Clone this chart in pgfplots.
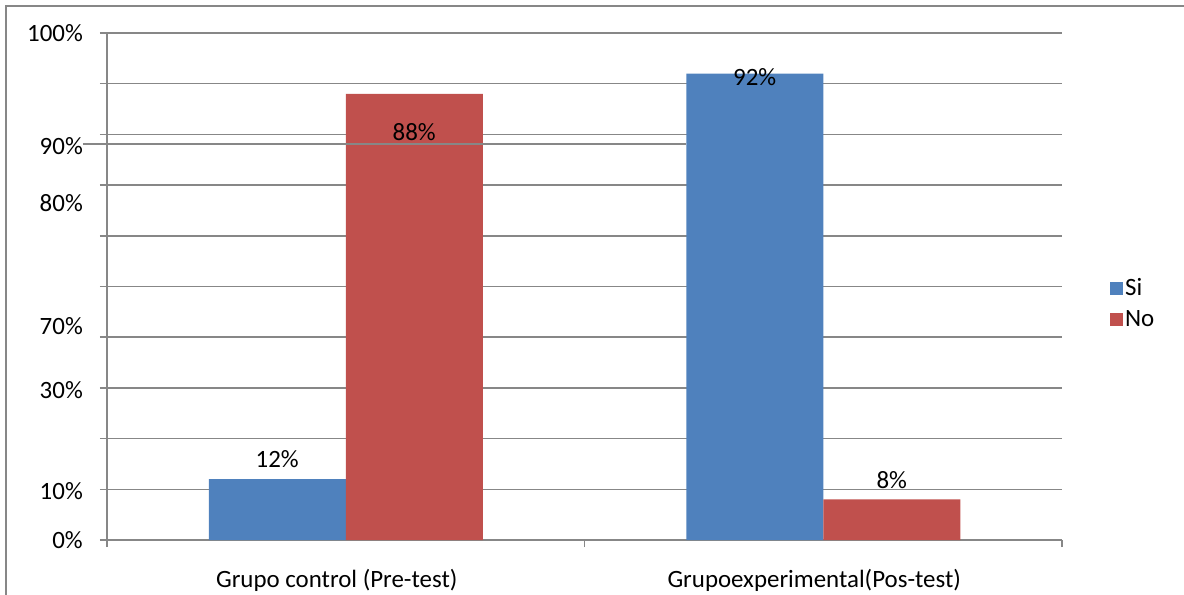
\documentclass[border=0pt]{standalone}
\usepackage{fontspec}
\setmainfont{Carlito}
\usepackage{pgfplots}
\usepackage{pgfplotstable}
\pgfplotsset{compat=1.18}
\definecolor{siblue}{HTML}{4F81BD}
\definecolor{nored}{HTML}{C0504D}
\definecolor{gridgray}{HTML}{878787}
\pgfplotstableread{
x y dy
0 12 20
1 92 -4
}\sitab
\pgfplotstableread{
x y dy
0 88 -38
1 8 19
}\notab
\begin{document}
\begin{tikzpicture}
\path[use as bounding box] (0,0) rectangle (1184bp,595bp);
\draw[gridgray, line width=1.5bp] (6bp,0) -- (6bp,589bp) -- (1184bp,589bp);
\begin{axis}[
  at={(107bp,55bp)}, anchor=south west,
  scale only axis, width=955bp, height=507bp,
  ybar=0pt, bar width=137bp,
  xmin=-0.5, xmax=1.5, ymin=0, ymax=100,
  axis lines=left, axis line style={-, gridgray, line width=1.5bp},
  tick align=outside, major tick length=7bp,
  tick style={gridgray, line width=1.5bp},
  xtick={-0.5,0.5,1.5}, xticklabels={},
  ytick={0,10,...,100}, yticklabels={},
  ymajorgrids, major grid style={gridgray, line width=1.5bp},
  extra x ticks={0,1},
  extra x tick labels={Grupo control (Pre-test),Grupoexperimental(Pos-test)},
  extra x tick style={tick style={draw=none}, grid=none,
    xticklabel style={anchor=center, inner sep=0pt, yshift=-33bp, xshift=-9bp,
      font=\fontsize{25}{29}\selectfont}},
  extra y ticks={0,9.7,29.6,42.2,66.4,77.6,100},
  extra y tick labels={0\%,10\%,30\%,70\%,80\%,90\%,100\%},
  extra y tick style={tick style={draw=none}, grid=none,
    yticklabel style={anchor=east, inner sep=0pt, xshift=-17bp,
      font=\fontsize{25}{29}\selectfont}},
  /pgf/number format/assume math mode=true,
  legend style={draw=none, fill=none, at={(1.047,0.467)}, anchor=west,
    font=\fontsize{25}{29}\selectfont, row sep=9bp,
    /tikz/every even column/.append style={column sep=7bp}},
  legend image code/.code={\fill[#1] (0bp,-6.5bp) rectangle (13bp,6.5bp);},
  legend cell align=left,
  clip=false,
]
\addplot[fill=siblue, draw=none,
  nodes near coords={\pgfmathprintnumber{\pgfplotspointmeta}\%},
  visualization depends on={\thisrow{dy}\as\dy},
  every node near coord/.append style={anchor=center, yshift=\dy bp, text=black,
    font=\fontsize{25}{29}\selectfont}]
  table[x=x,y=y] {\sitab};
\addlegendentry{Si}
\addplot[fill=nored, draw=none,
  nodes near coords={\pgfmathprintnumber{\pgfplotspointmeta}\%},
  visualization depends on={\thisrow{dy}\as\dy},
  every node near coord/.append style={anchor=center, yshift=\dy bp, text=black,
    font=\fontsize{25}{29}\selectfont}]
  table[x=x,y=y] {\notab};
\addlegendentry{No}
\draw[gridgray, line width=1.5bp] ([xshift=-24bp]axis cs:-0.5,78.1) -- (axis cs:0.713,78.1);
\end{axis}
\end{tikzpicture}
\end{document}
